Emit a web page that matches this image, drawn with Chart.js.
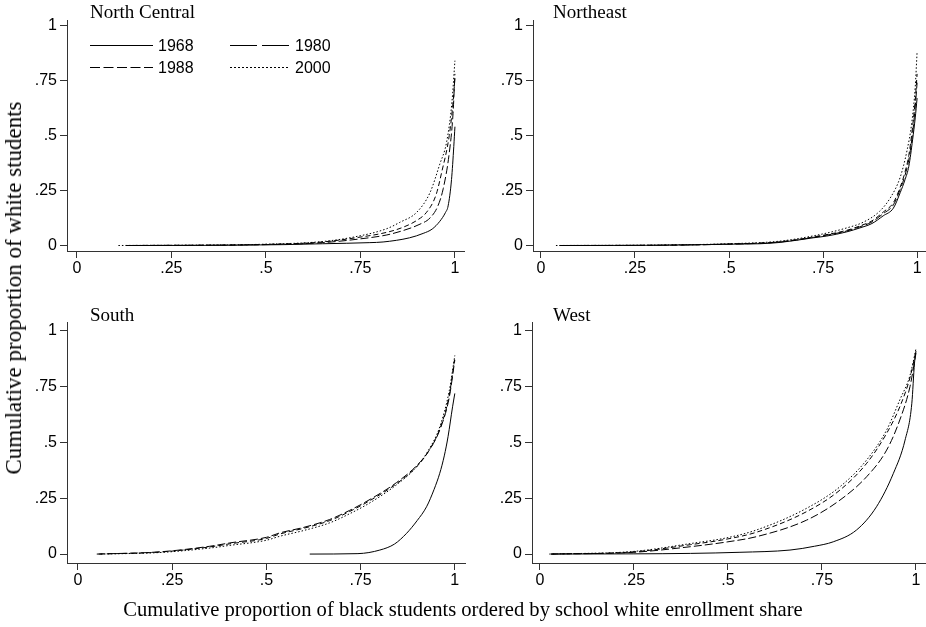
<!DOCTYPE html>
<html>
<head>
<meta charset="utf-8">
<script src="https://cdn.jsdelivr.net/npm/chart.js@4.4.1/dist/chart.umd.min.js"></script>
<style>
  body { margin: 0; background: #fff; }
  #wrap { position: relative; width: 926px; height: 627px; overflow: hidden; }
  #wrap canvas { position: absolute; left: 0; top: 0; }
  .axtitle { position: absolute; white-space: nowrap; font-family: "Liberation Serif", serif; color: #000; }
  #ytitle { left: 14px; top: 288px; font-size: 23px; transform: translate(-50%, -50%) rotate(-90deg); }
  #xtitle { left: 463px; top: 609px; font-size: 20.6px; transform: translate(-50%, -50%); }
</style>
</head>
<body>
<div id="wrap">
  <canvas id="nc" width="926" height="627"></canvas>
  <canvas id="ne" width="926" height="627"></canvas>
  <canvas id="s" width="926" height="627"></canvas>
  <canvas id="w" width="926" height="627"></canvas>
  <div class="axtitle" id="ytitle">Cumulative proportion of white students</div>
  <div class="axtitle" id="xtitle">Cumulative proportion of black students ordered by school white enrollment share</div>
</div>
<script>
// Years shown in the legend, one curve per year in every region
const years = ['1968', '1980', '1988', '2000'];
const xTicks = [0, 0.25, 0.5, 0.75, 1];
const yTicks = [0, 0.25, 0.5, 0.75, 1];

// [share of black students, share of white students]
const nc1968 = [[0.16,0],[0.4,0.001],[0.55,0.004],[0.65,0.008],[0.775,0.013],[0.81,0.016],[0.88,0.035],[0.916,0.055],[0.94,0.075],[0.96,0.11],[0.975,0.15],[0.982,0.18],[0.991,0.3],[0.997,0.45],[1,0.54]];
const nc1980 = [[0.14,0],[0.4,0.002],[0.5,0.004],[0.643,0.012],[0.749,0.03],[0.82,0.048],[0.863,0.068],[0.905,0.095],[0.934,0.125],[0.955,0.18],[0.969,0.258],[0.985,0.42],[0.995,0.6],[1,0.78]];
const nc1988 = [[0.13,0],[0.4,0.002],[0.5,0.005],[0.643,0.015],[0.749,0.038],[0.82,0.06],[0.863,0.083],[0.9,0.115],[0.925,0.151],[0.95,0.23],[0.965,0.333],[0.985,0.5],[0.995,0.65],[1,0.76]];
const nc2000 = [[0.11,0],[0.4,0.003],[0.5,0.006],[0.643,0.017],[0.731,0.038],[0.819,0.076],[0.854,0.105],[0.899,0.151],[0.934,0.24],[0.96,0.37],[0.978,0.47],[0.992,0.65],[1,0.84]];

const ne1968 = [[0.06,0],[0.3,0.001],[0.5,0.006],[0.582,0.008],[0.636,0.014],[0.724,0.035],[0.76,0.043],[0.813,0.062],[0.848,0.08],[0.88,0.1],[0.91,0.135],[0.937,0.17],[0.955,0.24],[0.968,0.3],[0.978,0.36],[0.988,0.48],[0.995,0.58],[1,0.67]];
const ne1980 = [[0.05,0],[0.3,0.001],[0.5,0.006],[0.636,0.016],[0.724,0.037],[0.813,0.066],[0.848,0.085],[0.88,0.107],[0.91,0.145],[0.937,0.185],[0.955,0.255],[0.968,0.32],[0.978,0.39],[0.988,0.51],[0.995,0.63],[1,0.74]];
const ne1988 = [[0.05,0],[0.3,0.001],[0.5,0.007],[0.636,0.017],[0.724,0.039],[0.813,0.069],[0.848,0.089],[0.88,0.112],[0.91,0.152],[0.937,0.195],[0.955,0.265],[0.968,0.335],[0.978,0.41],[0.988,0.54],[0.995,0.66],[1,0.78]];
const ne2000 = [[0.04,0],[0.3,0.002],[0.5,0.008],[0.636,0.02],[0.742,0.05],[0.813,0.08],[0.857,0.106],[0.9,0.155],[0.93,0.22],[0.955,0.31],[0.973,0.43],[0.986,0.56],[0.995,0.72],[1,0.88]];

const s1968 = [[0.615,0],[0.743,0.002],[0.801,0.018],[0.84,0.045],[0.872,0.093],[0.9,0.15],[0.925,0.212],[0.945,0.29],[0.96,0.362],[0.972,0.44],[0.982,0.526],[0.994,0.66],[1,0.72]];
const s1980 = [[0.05,0],[0.217,0.01],[0.35,0.035],[0.403,0.05],[0.5,0.075],[0.536,0.095],[0.6,0.12],[0.668,0.155],[0.72,0.195],[0.775,0.245],[0.845,0.32],[0.898,0.395],[0.93,0.46],[0.96,0.556],[0.985,0.7],[1,0.87]];
const s1988 = [[0.055,0],[0.217,0.009],[0.35,0.032],[0.403,0.046],[0.5,0.07],[0.536,0.09],[0.6,0.116],[0.668,0.15],[0.72,0.19],[0.775,0.24],[0.845,0.315],[0.898,0.39],[0.93,0.46],[0.96,0.56],[0.985,0.71],[1,0.88]];
const s2000 = [[0.06,0],[0.217,0.007],[0.35,0.027],[0.403,0.039],[0.5,0.062],[0.536,0.08],[0.6,0.106],[0.668,0.14],[0.72,0.18],[0.775,0.23],[0.845,0.31],[0.898,0.39],[0.93,0.465],[0.96,0.57],[0.985,0.73],[1,0.89]];

const w1968 = [[0.03,0],[0.25,0.001],[0.4,0.003],[0.532,0.008],[0.665,0.018],[0.73,0.035],[0.78,0.055],[0.842,0.108],[0.895,0.212],[0.94,0.362],[0.971,0.511],[0.989,0.676],[0.996,0.855],[1,0.91]];
const w1980 = [[0.03,0],[0.25,0.008],[0.4,0.033],[0.5,0.055],[0.576,0.078],[0.709,0.152],[0.798,0.242],[0.869,0.347],[0.922,0.466],[0.957,0.601],[0.984,0.75],[1,0.9]];
const w1988 = [[0.03,0],[0.25,0.01],[0.4,0.042],[0.5,0.068],[0.576,0.098],[0.709,0.19],[0.798,0.287],[0.869,0.407],[0.922,0.541],[0.957,0.66],[0.984,0.79],[1,0.91]];
const w2000 = [[0.025,0],[0.25,0.012],[0.4,0.047],[0.5,0.074],[0.576,0.108],[0.709,0.205],[0.798,0.302],[0.869,0.422],[0.922,0.556],[0.957,0.691],[0.984,0.8],[1,0.92]];

// line look for each year: plot dashes and legend-key dashes
const plotDash = [[], [8, 3], [5, 3], [1.5, 2]];
const keyDash = [[], [27, 5], [10, 3.5], [2, 2]];

const panels = [
  { id: 'nc', title: 'North Central', series: [nc1968, nc1980, nc1988, nc2000], left: 67, right: 464, top: 20, bottom: 251,
    xMin: -0.026, xMax: 1.024, yMin: -0.025, yMax: 1.025, titleX: 90, titleY: 18, legend: true },
  { id: 'ne', title: 'Northeast', series: [ne1968, ne1980, ne1988, ne2000], left: 533, right: 925, top: 20, bottom: 251,
    xMin: -0.021, xMax: 1.021, yMin: -0.025, yMax: 1.025, titleX: 553, titleY: 18 },
  { id: 's', title: 'South', series: [s1968, s1980, s1988, s2000], left: 67, right: 465, top: 322, bottom: 563,
    xMin: -0.029, xMax: 1.027, yMin: -0.04, yMax: 1.04, titleX: 90, titleY: 321 },
  { id: 'w', title: 'West', series: [w1968, w1980, w1988, w2000], left: 532, right: 925, top: 322, bottom: 563,
    xMin: -0.021, xMax: 1.024, yMin: -0.04, yMax: 1.04, titleX: 553, titleY: 321 }
];

const Y_AXIS_W = 40;
const X_AXIS_H = 30;

function fmtTick(v) {
  if (v === 0) return '0';
  if (v === 1) return '1';
  return String(v).replace(/^0/, '');
}

// panel heading and the legend of the first panel
const panelText = {
  id: 'panelText',
  afterDraw(chart, args, opts) {
    const ctx = chart.ctx;
    ctx.save();
    ctx.fillStyle = '#000';
    ctx.textBaseline = 'alphabetic';
    ctx.font = '19px "Liberation Serif"';
    ctx.fillText(opts.title, opts.titleX, opts.titleY);
    if (opts.legend) {
      const keys = [[90, 45, 153], [230, 45, 290], [90, 67, 153], [230, 67, 290]];
      ctx.font = '16px "Liberation Sans"';
      years.forEach((yr, i) => {
        const [x0, y0, x1] = keys[i];
        ctx.beginPath();
        ctx.setLineDash(keyDash[i]);
        ctx.strokeStyle = '#000';
        ctx.lineWidth = 1;
        ctx.moveTo(x0, y0 + 0.5);
        ctx.lineTo(x1, y0 + 0.5);
        ctx.stroke();
        ctx.setLineDash([]);
        ctx.fillText(yr, x1 + 5, y0 + 6);
      });
    }
    ctx.restore();
  }
};

panels.forEach(p => {
  const axisCommon = {
    type: 'linear',
    grid: { drawOnChartArea: false, drawTicks: true, tickLength: 7, color: '#333', lineWidth: 1 },
    border: { display: true, color: '#333', width: 1 },
    ticks: { color: '#000', font: { family: 'Liberation Sans', size: 16 }, callback: v => fmtTick(v) }
  };
  new Chart(document.getElementById(p.id), {
    type: 'line',
    data: {
      datasets: p.series.map((d, i) => ({
        label: years[i],
        data: d,
        borderColor: '#000',
        borderWidth: 1,
        borderDash: plotDash[i],
        pointRadius: 0,
        fill: false,
        cubicInterpolationMode: 'monotone'
      }))
    },
    options: {
      responsive: false,
      animation: false,
      devicePixelRatio: 1,
      events: [],
      layout: {
        padding: {
          left: p.left - Y_AXIS_W,
          right: 926 - p.right,
          top: p.top,
          bottom: 627 - p.bottom - X_AXIS_H
        }
      },
      scales: {
        x: Object.assign({}, axisCommon, {
          min: p.xMin, max: p.xMax,
          ticks: Object.assign({}, axisCommon.ticks, { padding: 1, maxRotation: 0 }),
          afterBuildTicks: s => { s.ticks = xTicks.map(v => ({ value: v })); },
          afterFit: s => { s.height = X_AXIS_H; }
        }),
        y: Object.assign({}, axisCommon, {
          min: p.yMin, max: p.yMax,
          ticks: Object.assign({}, axisCommon.ticks, { padding: 3 }),
          afterBuildTicks: s => { s.ticks = yTicks.map(v => ({ value: v })); },
          afterFit: s => { s.width = Y_AXIS_W; }
        })
      },
      plugins: {
        legend: { display: false },
        tooltip: { enabled: false },
        panelText: { title: p.title, titleX: p.titleX, titleY: p.titleY, legend: !!p.legend }
      }
    },
    plugins: [panelText]
  });
});
</script>
</body>
</html>
